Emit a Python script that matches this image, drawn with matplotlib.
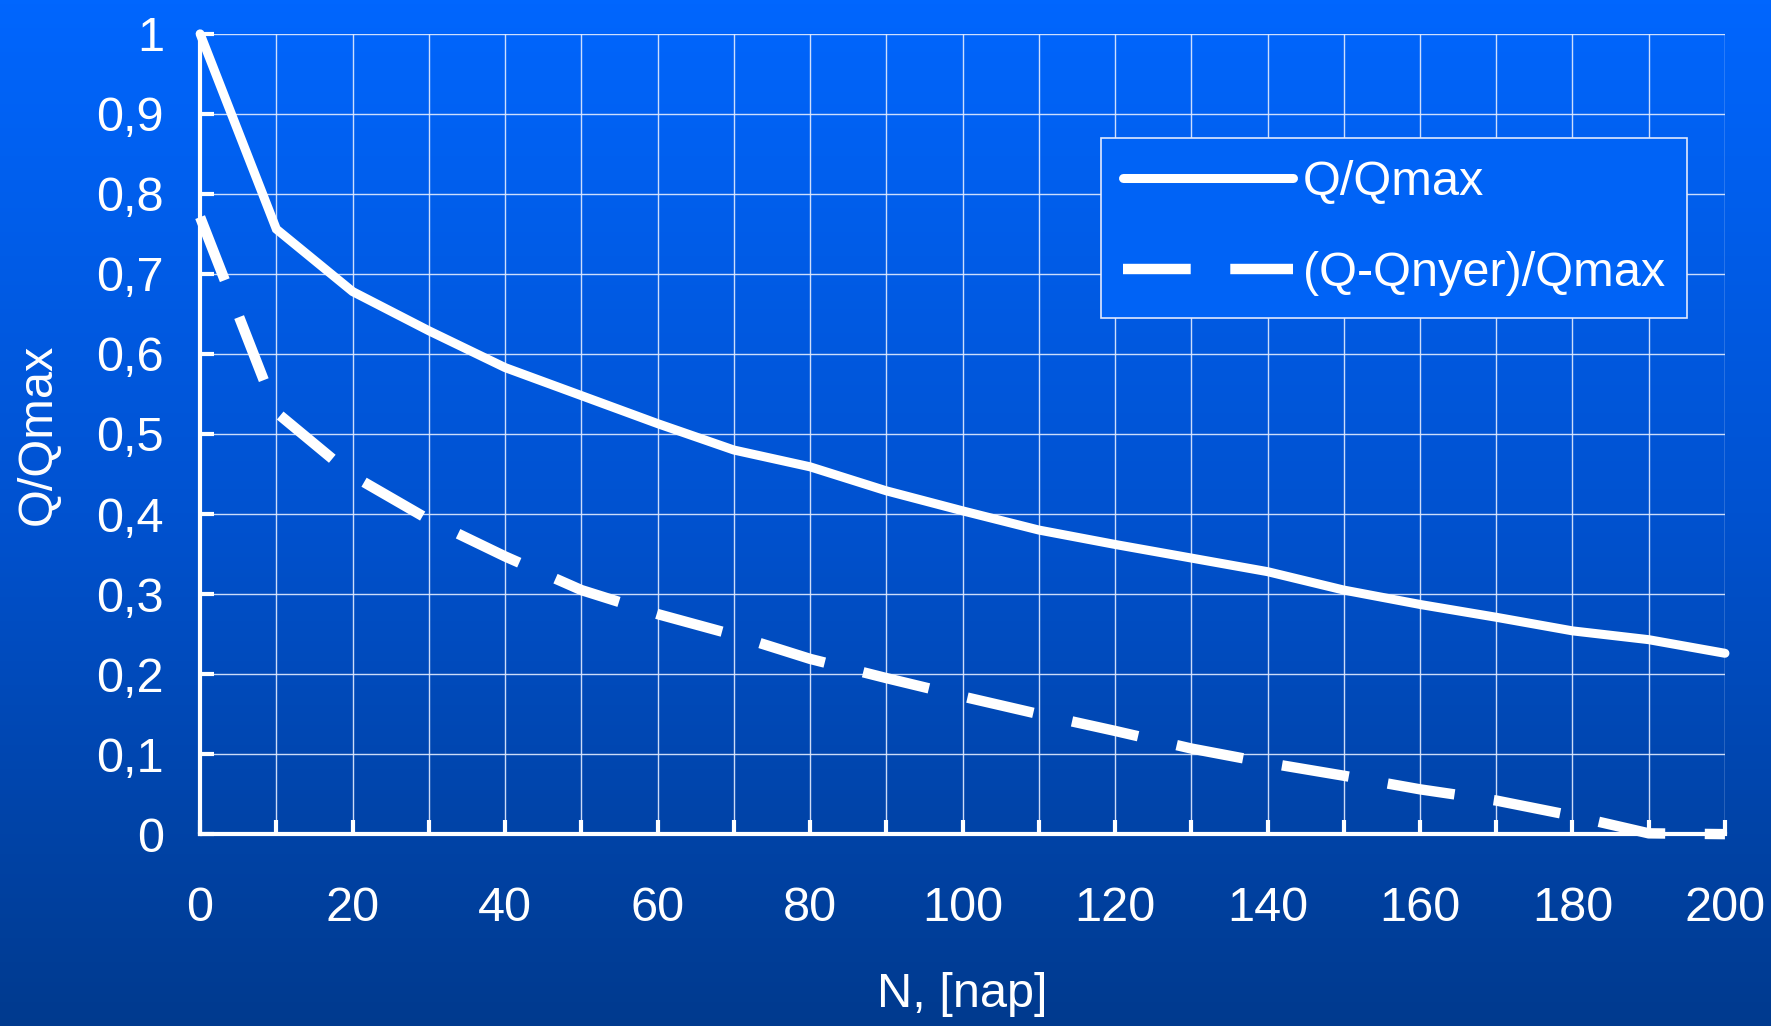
import numpy as np
import matplotlib
matplotlib.use('Agg')
import matplotlib.pyplot as plt
from matplotlib.colors import LinearSegmentedColormap

plt.rcParams['font.family'] = ['Liberation Sans', 'DejaVu Sans']

# ------------------------------------------------------------
# Data
# ------------------------------------------------------------
n_days = [0, 10, 20, 30, 40, 50, 60, 70, 80, 90, 100,
          110, 120, 130, 140, 150, 160, 170, 180, 190, 200]
q_ratio = [1.000, 0.756, 0.678, 0.629, 0.583, 0.548, 0.513, 0.480, 0.459, 0.429, 0.404,
           0.380, 0.362, 0.345, 0.328, 0.305, 0.287, 0.271, 0.254, 0.243, 0.226]
q_net_ratio = [0.771, 0.527, 0.448, 0.393, 0.347, 0.305, 0.275, 0.249, 0.219, 0.195, 0.172,
               0.150, 0.129, 0.107, 0.089, 0.073, 0.056, 0.042, 0.023, 0.001, 0.000]
x_ticks = [0, 20, 40, 60, 80, 100, 120, 140, 160, 180, 200]
y_ticks = [0, 0.1, 0.2, 0.3, 0.4, 0.5, 0.6, 0.7, 0.8, 0.9, 1.0]
y_ticklabels = ['0', '0,1', '0,2', '0,3', '0,4', '0,5', '0,6', '0,7', '0,8', '0,9', '1']

FS = 35
W = 'white'

fig = plt.figure(figsize=(17.71, 10.26), dpi=100)

# background gradient
bg = fig.add_axes([0, 0, 1, 1], zorder=-10)
cmap = LinearSegmentedColormap.from_list('bg', ['#0066fe', '#0052d0', '#003a8e'])
bg.imshow(np.linspace(0, 1, 256).reshape(-1, 1), aspect='auto', cmap=cmap,
          extent=[0, 1, 0, 1])
bg.axis('off')

ax = fig.add_axes([0.113, 0.187, 0.861, 0.78])
ax.patch.set_alpha(0)

ax.plot(n_days, q_ratio, color=W, lw=6.5, solid_capstyle='round',
        solid_joinstyle='miter', label='Q/Qmax', zorder=5, clip_on=False)
ax.plot(n_days, q_net_ratio, color=W, lw=7.5, linestyle=(0, (6.5, 3.8)),
        dash_capstyle='butt', label='(Q-Qnyer)/Qmax', zorder=5, clip_on=False)

ax.set_xlim(0, 200)
ax.set_ylim(0, 1)
ax.set_xticks(x_ticks)
ax.set_xticks(range(0, 201, 10), minor=True)
ax.set_yticks(y_ticks)
ax.set_yticklabels(y_ticklabels)

ax.grid(True, which='both', color='#e4ecff', lw=1.0, alpha=0.9)
ax.set_axisbelow(True)

for side in ['top', 'right']:
    ax.spines[side].set_visible(False)
for side in ['left', 'bottom']:
    ax.spines[side].set_color(W)
    ax.spines[side].set_linewidth(3)

ax.tick_params(axis='x', which='both', direction='in', length=10, width=3,
               colors=W, labelsize=FS, pad=37)
ax.tick_params(axis='y', which='both', direction='in', length=10, width=3,
               colors=W, labelsize=FS, pad=26)

ax.set_xlabel('N, [nap]', color=W, fontsize=FS, labelpad=30)
ax.set_ylabel('Q/Qmax', color=W, fontsize=FS, labelpad=26)

leg = ax.legend(loc='upper left', bbox_to_anchor=(0.591, 0.87), borderaxespad=0,
                fontsize=FS, frameon=True, fancybox=False, handlelength=3.5,
                handletextpad=0.2, labelspacing=0.95, borderpad=0.45)
leg.get_frame().set_facecolor('#0063f6')
leg.get_frame().set_edgecolor('#e0e8ff')
leg.get_frame().set_linewidth(1.2)
leg.get_frame().set_alpha(1)
for t in leg.get_texts():
    t.set_color(W)

fig.savefig('out.png', dpi=100)
